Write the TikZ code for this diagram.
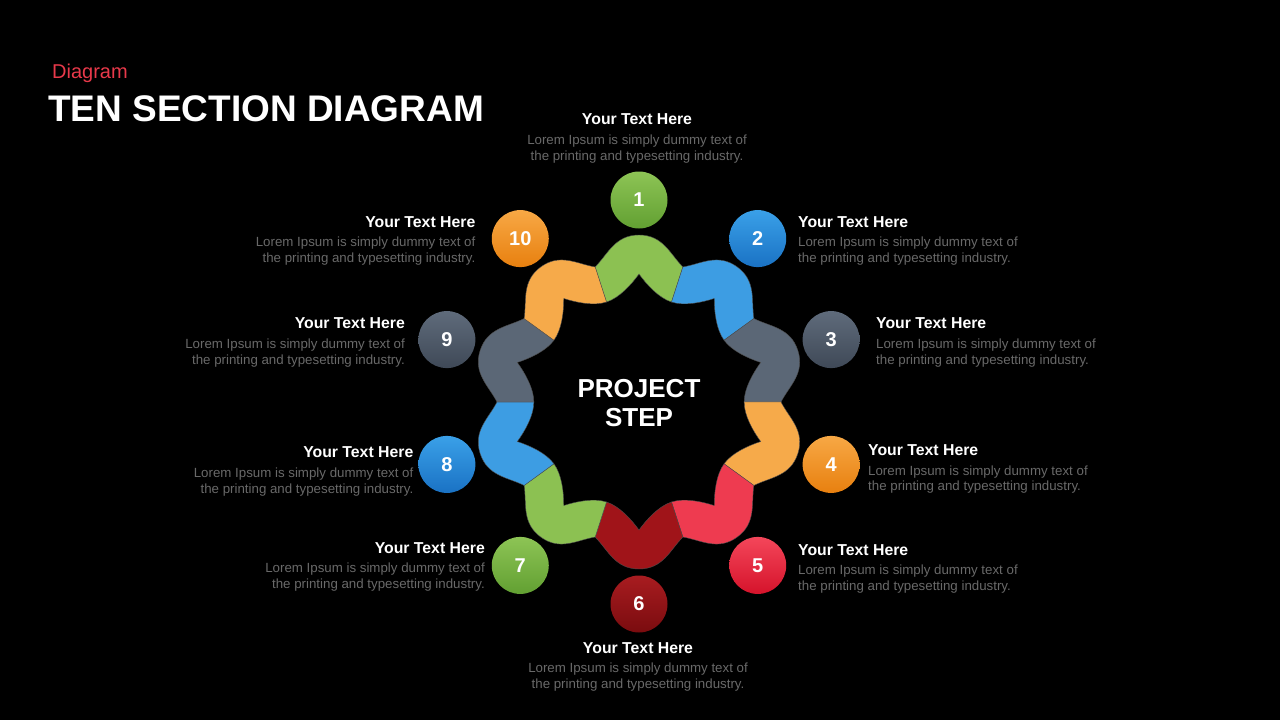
\documentclass[tikz,border=0pt]{standalone}
\usepackage{fontspec}
\setmainfont{Liberation Sans}
\definecolor{sgGreen}{HTML}{8CC152}
\definecolor{sgBlue}{HTML}{3D9DE3}
\definecolor{sgGray}{HTML}{5B6776}
\definecolor{sgOrange}{HTML}{F6AA4A}
\definecolor{sgRed}{HTML}{EE3B50}
\definecolor{sgDark}{HTML}{A01419}
\definecolor{cGreenT}{HTML}{8DC455}
\definecolor{cGreenB}{HTML}{62A032}
\definecolor{cBlueT}{HTML}{3AA0E8}
\definecolor{cBlueB}{HTML}{1A72C4}
\definecolor{cGrayT}{HTML}{5F6B7B}
\definecolor{cGrayB}{HTML}{3F4957}
\definecolor{cOrangeT}{HTML}{F7A845}
\definecolor{cOrangeB}{HTML}{E8800F}
\definecolor{cRedT}{HTML}{F4465A}
\definecolor{cRedB}{HTML}{D5132B}
\definecolor{cDarkT}{HTML}{A81C20}
\definecolor{cDarkB}{HTML}{7A0C0F}
\definecolor{loremgray}{RGB}{105,105,105}
\definecolor{titlered}{HTML}{E8394A}
\begin{document}
\begin{tikzpicture}[x=1pt,y=-1pt,
  hdr/.style={text=white,font=\fontsize{15.8}{18}\selectfont\bfseries,inner sep=0pt},
  body/.style={text=loremgray,font=\fontsize{13.3}{16}\selectfont,inner sep=0pt},
  head/.style={circle,minimum size=57pt,inner sep=0pt,text=white,font=\fontsize{20}{22}\selectfont\bfseries},
  seg/.style={draw=black!70,line width=0.4pt}
]
\fill[black] (0,0) rectangle (1280,720);
\useasboundingbox (0,0) rectangle (1280,720);

% ring segments
\begin{scope}[shift={(639,402)},yscale=-1]
\foreach \k/\c in {1/sgGreen,2/sgBlue,3/sgGray,4/sgOrange,5/sgRed,6/sgDark,7/sgGreen,8/sgBlue,9/sgGray,10/sgOrange}{
  \filldraw[seg,fill=\c,rotate={36*(\k-1)-90}]
    (135,43.9) .. controls (148,31) and (167,24) .. (167,0)
    .. controls (167,-24) and (148,-31) .. (135,-43.9)
    -- (100,-32.5) .. controls (104,-20) and (117,-8) .. (128,0)
    .. controls (117,8) and (104,20) .. (100,32.5) -- cycle;
}
\end{scope}

% heads
\foreach \k/\t/\b in {1/cGreenT/cGreenB,2/cBlueT/cBlueB,3/cGrayT/cGrayB,4/cOrangeT/cOrangeB,5/cRedT/cRedB,6/cDarkT/cDarkB,7/cGreenT/cGreenB,8/cBlueT/cBlueB,9/cGrayT/cGrayB,10/cOrangeT/cOrangeB}{
  \pgfmathsetmacro\ang{90-36*(\k-1)}
  \node[head,top color=\t,bottom color=\b] (h\k) at ({639+202*cos(\ang)},{402-202*sin(\ang)}) {\k};
}

% titles
\node[anchor=base west,text=titlered,font=\fontsize{20}{24}\selectfont,inner sep=0pt] (sub) at (52,78) {Diagram};
\node[anchor=base west,text=white,font=\fontsize{37}{40}\selectfont\bfseries,inner sep=0pt] (title) at (48,121.5) {TEN SECTION DIAGRAM};

% centre
\node[anchor=base,text=white,font=\fontsize{26}{30}\selectfont\bfseries,inner sep=0pt] (p1) at (639,397.3) {PROJECT};
\node[anchor=base,text=white,font=\fontsize{26}{30}\selectfont\bfseries,inner sep=0pt] (p2) at (639,426.7) {STEP};

% text blocks
\foreach \k/\x/\an/\ya/\yb/\yc in {
  1/637/base/124/144/160,
  2/798/base west/227/246/262,
  3/876/base west/328.5/348.5/364,
  4/868/base west/455/475/490.5,
  5/798/base west/555/574.5/590,
  6/638/base/653/672.5/688.5,
  7/485/base east/553/572.5/588.5,
  8/413.5/base east/457.5/477/493,
  9/405/base east/328.5/348.5/364.5,
  10/475.5/base east/227/246.5/262}{
  \node[hdr,anchor=\an] (t\k) at (\x,\ya) {Your Text Here};
  \node[body,anchor=\an] (la\k) at (\x,\yb) {Lorem Ipsum is simply dummy text of};
  \node[body,anchor=\an] (lb\k) at (\x,\yc) {the printing and typesetting industry.};
}
\end{tikzpicture}
\end{document}
